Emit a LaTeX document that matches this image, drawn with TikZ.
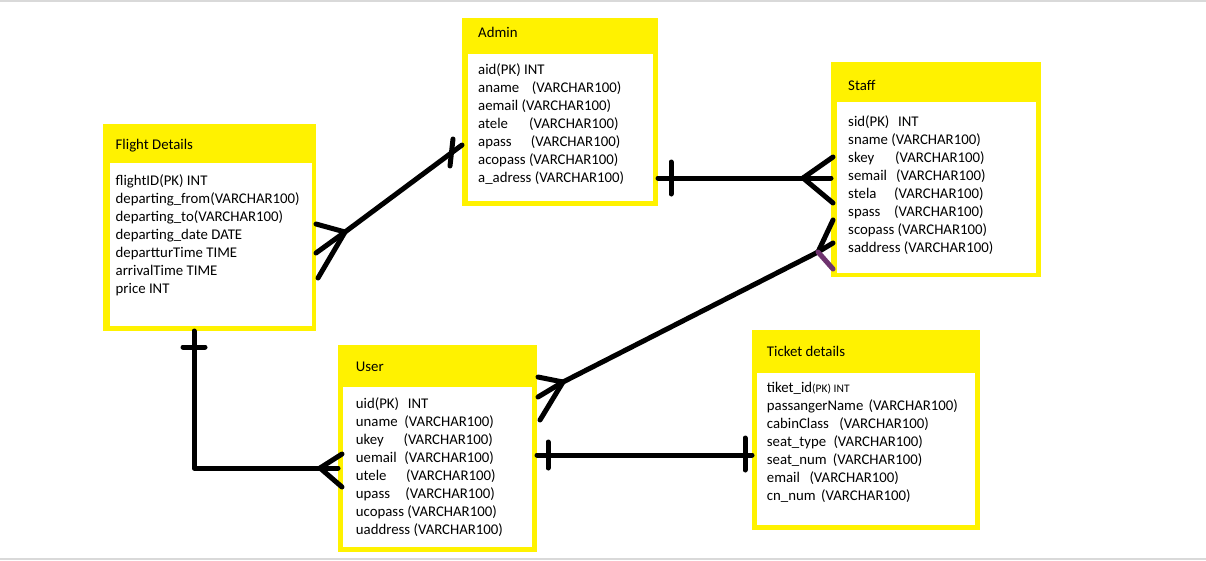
\documentclass[tikz,border=0pt]{standalone}
\usepackage{fontspec}
\setmainfont{Carlito}
\definecolor{pyellow}{RGB}{255,242,0}
\definecolor{pframe}{RGB}{217,217,217}
\definecolor{ppurple}{RGB}{110,50,110}
\newcommand\fld[3]{\setbox0=\hbox{#1\ }\ifdim\wd0<#2pt\makebox[#2pt][l]{#1}\else\box0\fi#3}
\begin{document}
\begin{tikzpicture}[x=1pt,y=-1pt,
  entity/.style={rectangle, fill=pyellow, inner sep=0pt, outer sep=0pt},
  txt/.style={anchor=base west, inner sep=0pt, font=\fontsize{14.8}{17}\selectfont},
  rel/.style={line width=5pt, line cap=round, line join=round, black}]
\useasboundingbox (0,0) rectangle (1206,560);
\fill[white] (0,0) rectangle (1206,560);
\draw[pframe, line width=2pt] (0,1) -- (1206,1);
\draw[pframe, line width=2pt] (0,558.5) -- (1206,558.5);

% entities
\node[entity, minimum width=213pt, minimum height=207pt] (flight) at (209.5,227.5) {};
\fill[white] (110,163) rectangle (312,326);
\node[entity, minimum width=196pt, minimum height=188pt] (admin) at (560,112) {};
\fill[white] (468,54) rectangle (653,201);
\node[entity, minimum width=210pt, minimum height=215pt] (staff) at (936,169.5) {};
\fill[white] (837,102) rectangle (1036,273);
\node[entity, minimum width=199pt, minimum height=207pt] (user) at (437.5,448.5) {};
\fill[white] (343,387) rectangle (532,547);
\node[entity, minimum width=228pt, minimum height=200pt] (ticket) at (866,430) {};
\fill[white] (757,373) rectangle (975,525);

% Flight Details
\node[txt] (ft) at (115.5,149) {Flight Details};
\node[txt] (f1) at (115.5,185.5) {flightID(PK) INT};
\node[txt] (f2) at (115.5,203.5) {departing\_from(VARCHAR100)};
\node[txt] (f3) at (115.5,221.5) {departing\_to(VARCHAR100)};
\node[txt] (f4) at (115.5,239.5) {departing\_date DATE};
\node[txt] (f5) at (115.5,257.5) {departturTime TIME};
\node[txt] (f6) at (115.5,275.5) {arrivalTime TIME};
\node[txt] (f7) at (115.5,293.5) {price INT};

% Admin
\node[txt] (at) at (478,37.7) {Admin};
\node[txt] (a1) at (478,74.3) {aid(PK) INT};
\node[txt] (a2) at (478,92.3) {\fld{aname}{53.7}{(VARCHAR100)}};
\node[txt] (a3) at (478,110.3) {\fld{aemail}{0}{(VARCHAR100)}};
\node[txt] (a4) at (478,128.3) {\fld{atele}{51}{(VARCHAR100)}};
\node[txt] (a5) at (478,146.3) {\fld{apass}{52.7}{(VARCHAR100)}};
\node[txt] (a6) at (478,164.3) {\fld{acopass}{0}{(VARCHAR100)}};
\node[txt] (a7) at (478,182.3) {\fld{a\_adress}{0}{(VARCHAR100)}};

% Staff
\node[txt] (st) at (848,90) {Staff};
\node[txt] (s1) at (848,126) {\fld{sid(PK)}{50}{INT}};
\node[txt] (s2) at (848,144) {\fld{sname}{41}{(VARCHAR100)}};
\node[txt] (s3) at (848,162) {\fld{skey}{47}{(VARCHAR100)}};
\node[txt] (s4) at (848,180) {\fld{semail}{48}{(VARCHAR100)}};
\node[txt] (s5) at (848,198) {\fld{stela}{46}{(VARCHAR100)}};
\node[txt] (s6) at (848,216) {\fld{spass}{46}{(VARCHAR100)}};
\node[txt] (s7) at (848,234) {\fld{scopass}{0}{(VARCHAR100)}};
\node[txt] (s8) at (848,252) {\fld{saddress}{0}{(VARCHAR100)}};

% User
\node[txt] (ut) at (355.7,371.7) {User};
\node[txt] (u1) at (355.7,408.3) {\fld{uid(PK)}{52}{INT}};
\node[txt] (u2) at (355.7,426.3) {\fld{uname}{48.6}{(VARCHAR100)}};
\node[txt] (u3) at (355.7,444.3) {\fld{ukey}{47.6}{(VARCHAR100)}};
\node[txt] (u4) at (355.7,462.3) {\fld{uemail}{48.6}{(VARCHAR100)}};
\node[txt] (u5) at (355.7,480.3) {\fld{utele}{50.3}{(VARCHAR100)}};
\node[txt] (u6) at (355.7,498.3) {\fld{upass}{49.6}{(VARCHAR100)}};
\node[txt] (u7) at (355.7,516.3) {\fld{ucopass}{0}{(VARCHAR100)}};
\node[txt] (u8) at (355.7,534.3) {\fld{uaddress}{0}{(VARCHAR100)}};

% Ticket details
\node[txt] (tt) at (766.7,356) {Ticket details};
\node[txt] (t1) at (766.7,392.7) {tiket\_id{\fontsize{11.5}{13}\selectfont(PK) INT}};
\node[txt] (t2) at (766.7,410.7) {\fld{passangerName}{101.6}{(VARCHAR100)}};
\node[txt] (t3) at (766.7,428.7) {\fld{cabinClass}{72.6}{(VARCHAR100)}};
\node[txt] (t4) at (766.7,446.7) {\fld{seat\_type}{66.6}{(VARCHAR100)}};
\node[txt] (t5) at (766.7,464.7) {\fld{seat\_num}{66}{(VARCHAR100)}};
\node[txt] (t6) at (766.7,482.7) {\fld{email}{42.6}{(VARCHAR100)}};
\node[txt] (t7) at (766.7,500.7) {\fld{cn\_num}{54.3}{(VARCHAR100)}};

% connector points
\coordinate (fa) at (345,232);
\coordinate (as) at (803,178);
\coordinate (uc) at (563,382);
\coordinate (sc) at (818,252);
\coordinate (corner) at (194,468);
\coordinate (cu) at (320,468);

% Flight -- Admin
\draw[rel] (flight.east |- 0,224) -- (fa);
\draw[rel] (flight.east |- 0,253) -- (fa);
\draw[rel] (318,278) -- (fa);
\draw[rel] (fa) -- (admin.west |- 0,145);
\draw[rel] (453,139) -- (450,166);

% Admin -- Staff
\draw[rel] (admin.east |- as) -- (as);
\draw[rel] (671,162) -- (671,194);
\draw[rel] (as) -- (833,157);
\draw[rel] (as) -- (staff.west |- as);
\draw[rel] (as) -- (833,203);

% User -- Staff
\draw[rel] (uc) -- (sc);
\draw[rel] (538,377) -- (uc);
\draw[rel] (538,397) -- (uc);
\draw[rel] (540,420) -- (uc);
\draw[rel] (833,220) -- (sc);
\draw[rel] (833,243) -- (sc);
\draw[rel, ppurple] (sc) -- (833,269);

% User -- Ticket
\draw[rel] (user.east |- 0,455) -- (ticket.west |- 0,455);
\draw[rel] (548,442) -- (548,468);
\draw[rel] (745,438) -- (745,470);

% Flight -- User
\draw[rel] (flight.south -| corner) -- (corner) -- (cu);
\draw[rel] (183,347) -- (205,347);
\draw[rel] (cu) -- (342,454);
\draw[rel] (cu) -- (user.west |- cu);
\draw[rel] (cu) -- (342,487);
\end{tikzpicture}
\end{document}
